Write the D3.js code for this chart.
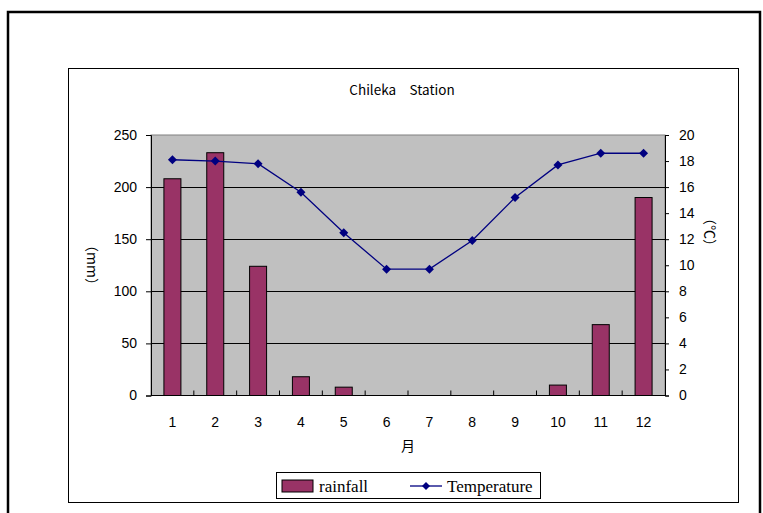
<!DOCTYPE html>
<html><head><meta charset="utf-8">
<script src="https://cdn.jsdelivr.net/npm/d3@7"></script>
<style>body{margin:0;background:#fff}svg{display:block}</style>
</head><body>
<script>
const months = ["1","2","3","4","5","6","7","8","9","10","11","12"];
const rainfall = [208, 233, 124, 18, 8, 0, 0, 0, 0, 10, 68, 190];
const temperature = [18.1, 18.0, 17.8, 15.6, 12.5, 9.7, 9.7, 11.9, 15.2, 17.7, 18.6, 18.6];
const leftTicks = [0, 50, 100, 150, 200, 250];
const rightTicks = [0, 2, 4, 6, 8, 10, 12, 14, 16, 18, 20];
const title = "Chileka\u3000Station";
const xTitle = "月";
const yLeftTitle = "（mm）";
const yRightTitle = "（℃）";
const seriesNames = ["rainfall", "Temperature"];

const W = 763, H = 513;
const svg = d3.select("body").append("svg").attr("width", W).attr("height", H);
const gothic = "'Noto Sans CJK JP', 'Liberation Sans', sans-serif";
const sans = "'Liberation Sans', Arial, sans-serif";

// outer frame
svg.append("rect").attr("x", 8).attr("y", 12).attr("width", 752).attr("height", 520)
  .attr("fill", "none").attr("stroke", "#000").attr("stroke-width", 2.5);
// chart frame
svg.append("rect").attr("x", 68.5).attr("y", 68.5).attr("width", 670).attr("height", 434)
  .attr("fill", "#fff").attr("stroke", "#000").attr("stroke-width", 1);

const pl = 151, pr = 665, pt = 135, pb = 395.5;
const x = d3.scaleBand().domain(months).range([pl, pr]).paddingInner(0).paddingOuter(0);
const yL = d3.scaleLinear().domain([0, 250]).range([pb, pt]);
const yR = d3.scaleLinear().domain([0, 20]).range([pb, pt]);

svg.append("rect").attr("x", pl).attr("y", pt).attr("width", pr - pl).attr("height", pb - pt)
  .attr("fill", "#c0c0c0").attr("stroke", "#808080").attr("stroke-width", 1);

// gridlines
svg.append("g").selectAll("line").data(leftTicks.filter(d => d > 0 && d < 250)).join("line")
  .attr("x1", pl).attr("x2", pr).attr("y1", d => Math.round(yL(d)) + 0.5).attr("y2", d => Math.round(yL(d)) + 0.5)
  .attr("stroke", "#000").attr("stroke-width", 1);

// bars
const bw = 17;
svg.append("g").selectAll("rect").data(rainfall).join("rect")
  .attr("x", (d, i) => x(months[i]) + x.bandwidth() / 2 - bw / 2)
  .attr("y", d => yL(d))
  .attr("width", bw)
  .attr("height", d => pb - yL(d))
  .attr("fill", "#993366").attr("stroke", "#000").attr("stroke-width", 1)
  .attr("visibility", d => d > 0 ? "visible" : "hidden");

// left axis
const gl = svg.append("g").attr("transform", `translate(${pl},0)`)
  .call(d3.axisLeft(yL).tickValues(leftTicks).tickSize(5).tickPadding(9));
gl.select(".domain").attr("stroke", "#000");
gl.selectAll("text").attr("font-family", sans).attr("font-size", 14).attr("fill", "#000");

// right axis
const gr = svg.append("g").attr("transform", `translate(${pr},0)`)
  .call(d3.axisRight(yR).tickValues(rightTicks).tickSize(4).tickPadding(10));
gr.select(".domain").attr("stroke", "#000");
gr.selectAll("text").attr("font-family", sans).attr("font-size", 14).attr("fill", "#000");

// bottom axis: inward ticks at category boundaries
svg.append("line").attr("x1", pl).attr("x2", pr).attr("y1", pb).attr("y2", pb).attr("stroke", "#000");
svg.append("g").selectAll("line").data(months.slice(1)).join("line")
  .attr("x1", d => x(d)).attr("x2", d => x(d)).attr("y1", pb).attr("y2", pb - 5).attr("stroke", "#000");
svg.append("g").selectAll("text").data(months).join("text")
  .attr("x", d => x(d) + x.bandwidth() / 2).attr("y", 427)
  .attr("text-anchor", "middle").attr("font-family", sans).attr("font-size", 14).text(d => d);

// temperature line
const line = d3.line().x((d, i) => x(months[i]) + x.bandwidth() / 2).y(d => yR(d));
svg.append("path").datum(temperature).attr("d", line).attr("fill", "none")
  .attr("stroke", "#000080").attr("stroke-width", 1.3);
svg.append("g").selectAll("path").data(temperature).join("path")
  .attr("transform", (d, i) => `translate(${x(months[i]) + x.bandwidth() / 2},${yR(d)})`)
  .attr("d", "M0,-4.5L4.5,0L0,4.5L-4.5,0Z").attr("fill", "#000080");

// titles
svg.append("text").attr("x", 402).attr("y", 95).attr("text-anchor", "middle")
  .attr("font-family", gothic).attr("font-size", 13.5).text(title);
svg.append("text").attr("x", 408).attr("y", 451).attr("text-anchor", "middle")
  .attr("font-family", gothic).attr("font-size", 14).text(xTitle);
svg.append("text").attr("transform", "translate(87,265) rotate(90)").attr("text-anchor", "middle")
  .attr("font-family", gothic).attr("font-size", 14).text(yLeftTitle);
svg.append("text").attr("transform", "translate(705,232) rotate(90)").attr("text-anchor", "middle")
  .attr("font-family", gothic).attr("font-size", 14).text(yRightTitle);

// legend
const lg = svg.append("g");
lg.append("rect").attr("x", 276.5).attr("y", 472.5).attr("width", 264).attr("height", 26)
  .attr("fill", "#fff").attr("stroke", "#000");
lg.append("rect").attr("x", 282).attr("y", 480).attr("width", 31).attr("height", 12)
  .attr("fill", "#993366").attr("stroke", "#000");
lg.append("text").attr("x", 319).attr("y", 491.5).attr("font-family", "'Liberation Serif', serif")
  .attr("font-size", 17).text(seriesNames[0]);
lg.append("line").attr("x1", 410).attr("x2", 442).attr("y1", 486).attr("y2", 486)
  .attr("stroke", "#000080").attr("stroke-width", 1.3);
lg.append("path").attr("transform", "translate(426,486)").attr("d", "M0,-4L4,0L0,4L-4,0Z").attr("fill", "#000080");
lg.append("text").attr("x", 447).attr("y", 491.5).attr("font-family", "'Liberation Serif', serif")
  .attr("font-size", 17).text(seriesNames[1]);
</script>
</body></html>
